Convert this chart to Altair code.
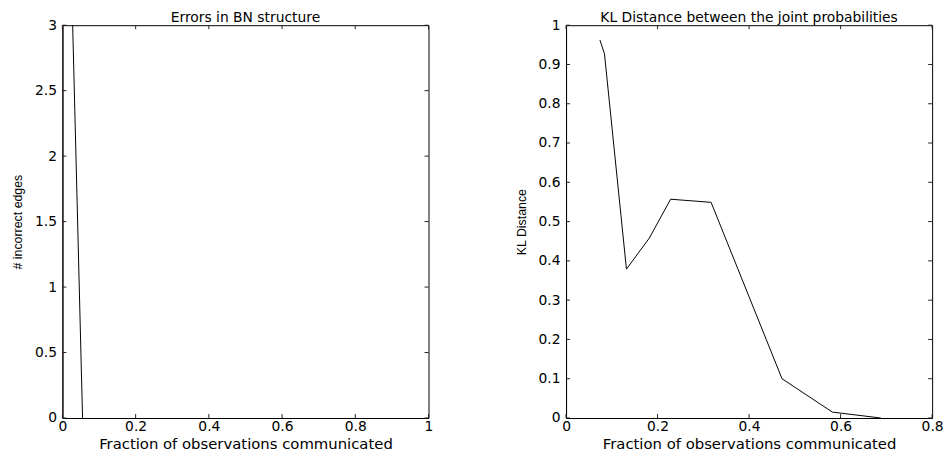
import altair as alt
import pandas as pd

# Left panel: errors in BN structure
left_x = [0.028, 0.055]
left_y = [3.0, 0.0]
left_xticks = [0, 0.2, 0.4, 0.6, 0.8, 1.0]
left_yticks = [0, 0.5, 1.0, 1.5, 2.0, 2.5, 3.0]

# Right panel: KL distance
right_x = [0.074, 0.084, 0.132, 0.182, 0.2285, 0.317, 0.472, 0.582, 0.688]
right_y = [0.9625, 0.927, 0.379, 0.458, 0.557, 0.549, 0.100, 0.015, 0.0]
right_xticks = [0, 0.2, 0.4, 0.6, 0.8]
right_yticks = [0, 0.1, 0.2, 0.3, 0.4, 0.5, 0.6, 0.7, 0.8, 0.9, 1.0]

W, H = 370, 397
HFONT = "DejaVu Sans"
VFONT = "Liberation Sans"
TICK = 4


def panel(xs, ys, xticks, yticks, xdom, ydom, title, ytitle):
    df = pd.DataFrame({"x": xs, "y": ys})
    xs_scale = alt.Scale(domain=xdom, nice=False, zero=False)
    ys_scale = alt.Scale(domain=ydom, nice=False, zero=False)
    x_axis = alt.Axis(values=xticks, format="~g", ticks=False, grid=False,
                      labelOverlap=False, labelFlush=False, labelBound=False,
                      title="Fraction of observations communicated",
                      labelPadding=2, titlePadding=3)
    y_axis = alt.Axis(values=yticks, format="~g", ticks=False, grid=False,
                      labelOverlap=False, labelFlush=False, labelBound=False,
                      title=ytitle, titleFont=VFONT, titleFontSize=12.5,
                      labelPadding=6, titlePadding=10)
    line = alt.Chart(df).mark_line(color="black", strokeWidth=1).encode(
        x=alt.X("x:Q", scale=xs_scale, axis=x_axis),
        y=alt.Y("y:Q", scale=ys_scale, axis=y_axis),
    )
    xt = pd.DataFrame({"x": xticks})
    yt = pd.DataFrame({"y": yticks})
    xtick_bottom = alt.Chart(xt).mark_rule(color="#222", strokeWidth=1).encode(
        x=alt.X("x:Q", scale=xs_scale, axis=x_axis), y=alt.value(H), y2=alt.value(H - TICK))
    xtick_top = alt.Chart(xt).mark_rule(color="#222", strokeWidth=1).encode(
        x=alt.X("x:Q", scale=xs_scale, axis=x_axis), y=alt.value(0), y2=alt.value(TICK))
    ytick_left = alt.Chart(yt).mark_rule(color="#222", strokeWidth=1).encode(
        y=alt.Y("y:Q", scale=ys_scale, axis=y_axis), x=alt.value(0), x2=alt.value(TICK))
    ytick_right = alt.Chart(yt).mark_rule(color="#222", strokeWidth=1).encode(
        y=alt.Y("y:Q", scale=ys_scale, axis=y_axis), x=alt.value(W), x2=alt.value(W - TICK))
    return alt.layer(line, xtick_bottom, xtick_top, ytick_left, ytick_right).properties(
        width=W, height=H,
        title=alt.TitleParams(title, font=HFONT, fontSize=14, fontWeight="normal",
                              anchor="middle", offset=-7, color="black"),
    )


left = panel(left_x, left_y, left_xticks, left_yticks, [0, 1], [0, 3],
             "Errors in BN structure", "# incorrect edges")
right = panel(right_x, right_y, right_xticks, right_yticks, [0, 0.8], [0, 1],
              "KL Distance between the joint probabilities", "KL Distance")

chart = alt.hconcat(left, right, spacing=82).properties(
    padding={"left": 3, "top": 0, "right": 0, "bottom": 0},
    background="white",
).configure_view(stroke="black", strokeWidth=1).configure_axis(
    labelFont=HFONT, labelFontSize=14, labelColor="black",
    titleFont=HFONT, titleFontSize=15, titleFontWeight="normal", titleColor="black",
    domainColor="black", domainWidth=1,
)

chart.save("out.html", embed_options={"renderer": "svg", "actions": False})
